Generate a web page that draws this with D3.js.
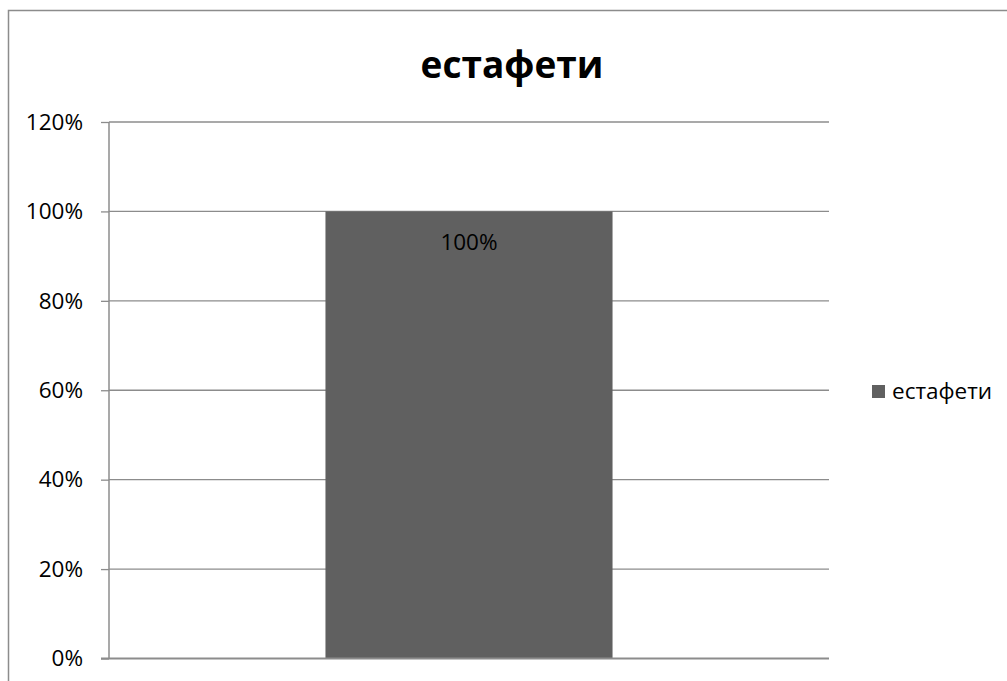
<!DOCTYPE html>
<html>
<head>
<meta charset="utf-8">
<script src="https://cdn.jsdelivr.net/npm/d3@7"></script>
<style>
  html, body { margin: 0; padding: 0; background: #fff; }
  svg { display: block; }
  text { font-family: "Open Sans", sans-serif; }
</style>
</head>
<body>
<script>
// Chart data
const categories = ["естафети"];
const values = [1.0];
const seriesName = "естафети";
const yTicks = [0, 0.2, 0.4, 0.6, 0.8, 1.0, 1.2];
const titleText = "естафети";

const W = 1007, H = 681;
const svg = d3.select("body").append("svg").attr("width", W).attr("height", H);

// Outer chart frame (runs off the right and bottom edges)
svg.append("rect")
  .attr("x", 8.5).attr("y", 10.5)
  .attr("width", W + 20).attr("height", H + 20)
  .attr("fill", "#fff").attr("stroke", "#8c8c8c").attr("stroke-width", 1.5);

const plot = { left: 109, right: 829, top: 122, bottom: 658.5 };

const x = d3.scaleBand().domain(categories)
  .range([plot.left, plot.right]).paddingInner(0).paddingOuter(0.754);
const y = d3.scaleLinear().domain([0, 1.2]).range([plot.bottom, plot.top]);

// Gridlines
svg.append("g").selectAll("line").data(yTicks.filter(d => d > 0)).join("line")
  .attr("x1", plot.left).attr("x2", plot.right)
  .attr("y1", d => y(d)).attr("y2", d => y(d))
  .attr("stroke", "#8c8c8c").attr("stroke-width", 1.3);

// Bars
svg.append("g").selectAll("rect").data(categories).join("rect")
  .attr("x", (d) => x(d))
  .attr("width", x.bandwidth())
  .attr("y", (d, i) => y(values[i]))
  .attr("height", (d, i) => y(0) - y(values[i]))
  .attr("fill", "#606060");

// Y axis
const yAxis = d3.axisLeft(y).tickValues(yTicks)
  .tickFormat(d3.format(".0%")).tickSize(8).tickPadding(18);
const gy = svg.append("g").attr("transform", `translate(${plot.left},0)`).call(yAxis);
gy.select(".domain").attr("stroke", "#8c8c8c").attr("stroke-width", 1.5)
  .attr("d", `M0,${plot.top}V${plot.bottom}`);
gy.selectAll(".tick line").attr("stroke", "#8c8c8c").attr("stroke-width", 1.3);
gy.selectAll(".tick text").attr("fill", "#000")
  .style("font-family", "'Open Sans', sans-serif").style("font-size", "22.5px");

// X axis baseline
svg.append("line")
  .attr("x1", plot.left - 8).attr("x2", plot.right)
  .attr("y1", y(0)).attr("y2", y(0))
  .attr("stroke", "#8c8c8c").attr("stroke-width", 1.8);

// Value labels
svg.append("g").selectAll("text").data(categories).join("text")
  .attr("x", d => x(d) + x.bandwidth() / 2)
  .attr("y", (d, i) => y(values[i]) + 39)
  .attr("text-anchor", "middle")
  .attr("font-size", 22.5).attr("fill", "#000")
  .text((d, i) => d3.format(".0%")(values[i]));

// Title
svg.append("text")
  .attr("x", 512).attr("y", 78)
  .attr("text-anchor", "middle")
  .attr("font-size", 37).attr("font-weight", "bold").attr("fill", "#000")
  .text(titleText);

// Legend
const lg = svg.append("g").attr("transform", "translate(872,385)");
lg.append("rect").attr("width", 13).attr("height", 13).attr("fill", "#606060");
lg.append("text").attr("x", 20).attr("y", 14)
  .attr("font-size", 22.5).attr("fill", "#000").text(seriesName);
</script>
</body>
</html>
